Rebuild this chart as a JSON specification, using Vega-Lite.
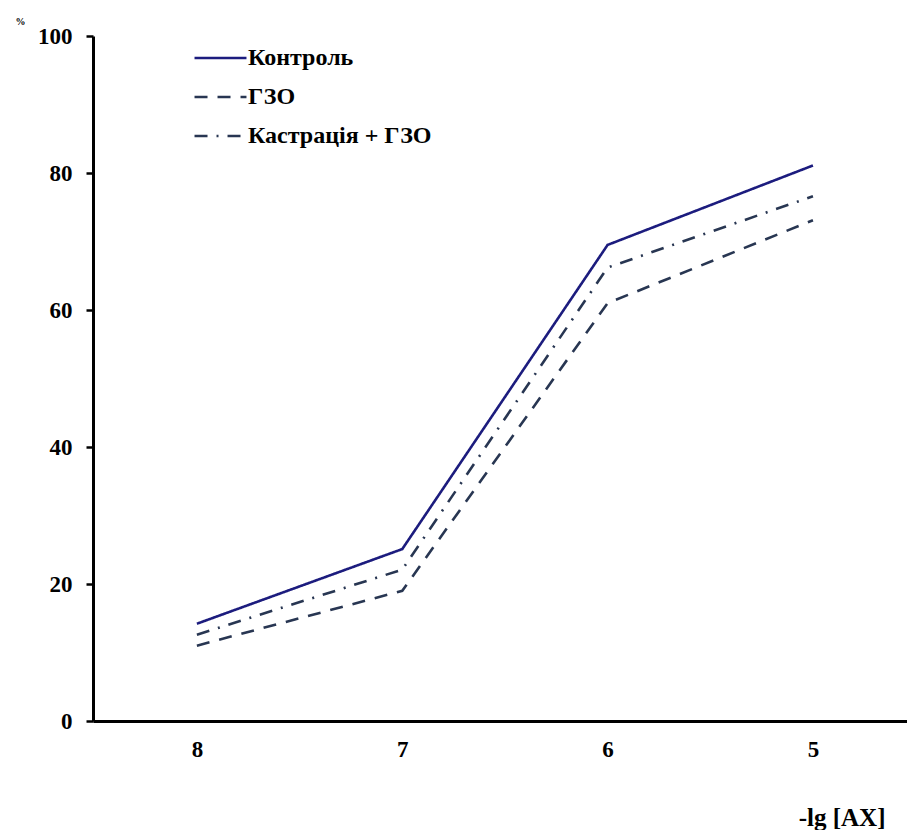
{
  "$schema": "https://vega.github.io/schema/vega-lite/v6.json",
  "width": 814,
  "height": 685,
  "autosize": {"type": "none"},
  "padding": {"left": 93, "top": 36, "right": 0, "bottom": 109},
  "background": "white",
  "config": {
    "view": {"stroke": null},
    "font": "Times New Roman, Liberation Serif, serif"
  },
  "data": {
    "values": [
      {"lg": 8, "pct": 14.2, "series": "Контроль"},
      {"lg": 7, "pct": 25.1, "series": "Контроль"},
      {"lg": 6, "pct": 69.5, "series": "Контроль"},
      {"lg": 5, "pct": 81.1, "series": "Контроль"},
      {"lg": 8, "pct": 11.0, "series": "ГЗО"},
      {"lg": 7, "pct": 19.0, "series": "ГЗО"},
      {"lg": 6, "pct": 61.0, "series": "ГЗО"},
      {"lg": 5, "pct": 73.1, "series": "ГЗО"},
      {"lg": 8, "pct": 12.6, "series": "Кастрація + ГЗО"},
      {"lg": 7, "pct": 22.1, "series": "Кастрація + ГЗО"},
      {"lg": 6, "pct": 66.2, "series": "Кастрація + ГЗО"},
      {"lg": 5, "pct": 76.6, "series": "Кастрація + ГЗО"}
    ]
  },
  "mark": {"type": "line", "strokeWidth": 2.6, "clip": false},
  "encoding": {
    "x": {
      "field": "lg",
      "type": "quantitative",
      "scale": {"domain": [4.542, 8.506], "reverse": true, "nice": false, "zero": false},
      "axis": {
        "values": [8, 7.5, 7, 6.5, 6, 5.5, 5],
        "format": "d",
        "labelExpr": "datum.value % 1 === 0 ? datum.label : ''",
        "tickOpacity": {"condition": {"test": "datum.value % 1 === 0", "value": 0}, "value": 1},
        "tickColor": "black",
        "tickWidth": 2.5,
        "tickSize": 7,
        "domainColor": "black",
        "domainWidth": 3,
        "grid": false,
        "labelFont": "Times New Roman, Liberation Serif, serif",
        "labelFontWeight": "bold",
        "labelFontSize": 23,
        "labelColor": "black",
        "labelPadding": 10,
        "title": "-lg [AX]",
        "titleFont": "Times New Roman, Liberation Serif, serif",
        "titleFontWeight": "bold",
        "titleFontSize": 25,
        "titleColor": "black",
        "titleAnchor": "end",
        "titleAlign": "right",
        "titleBaseline": "alphabetic",
        "titleX": 792,
        "titleY": 104
      }
    },
    "y": {
      "field": "pct",
      "type": "quantitative",
      "scale": {"domain": [0, 100], "nice": false},
      "axis": {
        "values": [0, 20, 40, 60, 80, 100],
        "tickColor": "black",
        "tickWidth": 2.5,
        "tickSize": 7,
        "domainColor": "black",
        "domainWidth": 3,
        "grid": false,
        "labelFont": "Times New Roman, Liberation Serif, serif",
        "labelFontWeight": "bold",
        "labelFontSize": 23,
        "labelColor": "black",
        "labelPadding": 14,
        "title": "%",
        "titleAngle": 0,
        "titleFont": "Times New Roman, Liberation Serif, serif",
        "titleFontWeight": "bold",
        "titleFontSize": 10,
        "titleColor": "black",
        "titleX": -78,
        "titleY": -12,
        "titleAlign": "left",
        "titleBaseline": "alphabetic"
      }
    },
    "color": {
      "field": "series",
      "type": "nominal",
      "scale": {
        "domain": ["Контроль", "ГЗО", "Кастрація + ГЗО"],
        "range": ["#1c1c7e", "#283652", "#283652"]
      },
      "legend": {
        "title": null,
        "orient": "none",
        "legendX": 100,
        "legendY": 10,
        "symbolType": "stroke",
        "symbolSize": 2700,
        "symbolStrokeWidth": 2.6,
        "clipHeight": 24,
        "rowPadding": 15,
        "labelOffset": 0,
        "labelLimit": 400,
        "labelFont": "Times New Roman, Liberation Serif, serif",
        "labelFontWeight": "bold",
        "labelFontSize": 24,
        "labelColor": "black",
        "padding": 0
      }
    },
    "strokeDash": {
      "field": "series",
      "type": "nominal",
      "scale": {
        "domain": ["Контроль", "ГЗО", "Кастрація + ГЗО"],
        "range": [[1, 0], [13, 10], [13, 9, 2, 9]]
      },
      "legend": {
        "title": null,
        "orient": "none",
        "legendX": 100,
        "legendY": 10,
        "symbolType": "stroke",
        "symbolSize": 2700,
        "symbolStrokeWidth": 2.6,
        "clipHeight": 24,
        "rowPadding": 15,
        "labelOffset": 0,
        "labelLimit": 400,
        "labelFont": "Times New Roman, Liberation Serif, serif",
        "labelFontWeight": "bold",
        "labelFontSize": 24,
        "labelColor": "black",
        "padding": 0
      }
    }
  }
}
